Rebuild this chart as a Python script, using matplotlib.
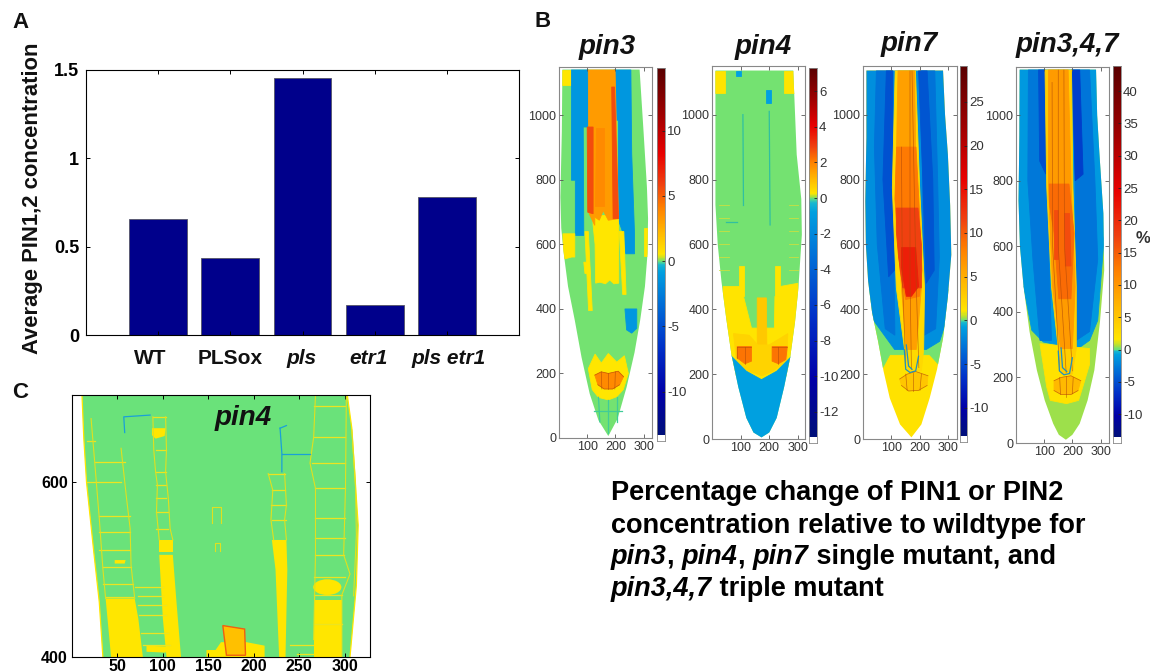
import numpy as np
import matplotlib
matplotlib.use('Agg')
import matplotlib.pyplot as plt
from matplotlib.colors import LinearSegmentedColormap, TwoSlopeNorm
from matplotlib.patches import Polygon, Ellipse

plt.rcParams['font.family'] = ['Liberation Sans', 'DejaVu Sans']
plt.rcParams['axes.unicode_minus'] = False

W, H = 1150, 672

# panel A
genotypes = ['WT', 'PLSox', 'pls', 'etr1', 'pls etr1']
geno_italic = [False, False, True, True, True]
pin_conc = [0.657, 0.436, 1.455, 0.17, 0.78]
geno_label_x = [150, 230, 302, 369, 449]

scale_pos = [0, .12, .25, .38, .47, .49, .5, .506, .518, .58, .64, .70, .78, .88, 1]
scale_col = ['#00107a', '#0000a8', '#0030c8', '#0070d8', '#00a0e0', '#18b8d0', '#6ae27a',
             '#a8e040', '#ffe600', '#ffb400', '#ff8000', '#f04010', '#e80000', '#a00000', '#5a0000']
jetish = LinearSegmentedColormap.from_list('jetish', list(zip(scale_pos, scale_col)), N=512)

# root outlines, x then y
pin3_out_x = [12, 10, 5, 8, 17, 32, 56, 80, 109, 140, 175, 208, 240, 268, 288, 305, 314, 316, 312, 300, 286]
pin3_out_y = [1142, 950, 747, 650, 571, 470, 365, 250, 137, 55, 6, 60, 158, 265, 365, 470, 571, 680, 778, 950, 1142]
pin4_out_x = [12, 12, 12, 20, 33, 50, 68, 92, 120, 145, 173, 200, 226, 252, 273, 290, 302, 314, 312, 296, 284]
pin4_out_y = [1136, 930, 722, 600, 486, 370, 260, 160, 65, 20, 5, 20, 65, 160, 250, 360, 466, 630, 740, 877, 1136]
pin7_out_x = [12, 12, 8, 10, 18, 32, 53, 72, 94, 130, 170, 205, 234, 260, 281, 298, 310, 306, 298, 288, 281]
pin7_out_y = [1136, 930, 733, 600, 486, 390, 301, 210, 126, 45, 5, 45, 126, 215, 311, 440, 568, 720, 877, 1000, 1136]
tri_out_x = [13, 12, 9, 14, 27, 48, 74, 102, 132, 152, 177, 200, 226, 254, 278, 298, 313, 310, 296, 288, 284]
tri_out_y = [1139, 940, 740, 600, 476, 340, 222, 130, 59, 25, 10, 25, 59, 130, 222, 370, 527, 700, 883, 1000, 1139]

# regions of each map: xs, ys, value in %
pin3_regions = [
    ([12, 44, 44, 12], [1142, 1142, 1093, 1093], 0.55),
    ([44, 104, 104, 86, 88, 58, 58, 44], [1142, 1142, 964, 964, 628, 628, 799, 799], -1.2),
    ([195, 255, 258, 268, 268, 237, 228, 211, 211, 195], [1142, 1142, 881, 633, 571, 571, 633, 675, 985, 985], -1.2),
    ([92, 104, 118, 105], [640, 640, 395, 395], 0.55),
    ([214, 230, 238, 226], [640, 640, 445, 445], 0.55),
    ([120, 211, 212, 195, 180, 165, 145, 130, 128, 121], [690, 690, 480, 478, 490, 478, 483, 480, 600, 660], 0.55),
    ([14, 56, 56, 45, 20, 14], [633, 633, 561, 561, 555, 590], 0.55),
    ([300, 316, 316, 300], [650, 650, 565, 565], 0.55),
    ([88, 108, 110, 92], [545, 545, 510, 510], 0.55),
    ([234, 276, 276, 258, 240], [400, 400, 340, 325, 335], -1.2),
    ([104, 199, 211, 175, 157, 143, 127, 127, 107], [1142, 1142, 680, 675, 705, 675, 685, 659, 695], 3.2),
    ([100, 121, 121, 102], [964, 964, 695, 700], 5.6),
    ([187, 197, 211, 192], [1088, 1088, 680, 680], 5.6),
    ([132, 158, 158, 128], [960, 960, 720, 720], 3.8),
    ([104, 128, 150, 175, 205, 232, 246, 228, 205, 175, 140, 118], [215, 260, 232, 262, 235, 255, 200, 150, 128, 118, 126, 150], 0.55),
    ([127, 150, 175, 210, 229, 215, 190, 160, 138], [195, 205, 200, 207, 190, 165, 152, 152, 165], 3.8),
]
pin4_regions = [
    ([12, 47, 47, 12], [1136, 1136, 1067, 1067], 0.3),
    ([253, 290, 290, 253], [1136, 1136, 1067, 1067], 0.3),
    ([85, 103, 103, 85], [1136, 1136, 1118, 1118], -0.8),
    ([188, 205, 205, 188], [1077, 1077, 1036, 1036], -0.8),
    ([39, 103, 110, 138, 138, 200, 218, 220, 237, 237, 300, 320, 280, 173, 60, 20],
     [470, 470, 440, 342, 342, 342, 342, 440, 440, 470, 480, 200, 200, 170, 200, 200], 0.3),
    ([95, 111, 111, 95], [532, 532, 440, 440], 0.3),
    ([220, 237, 237, 220], [532, 532, 440, 440], 0.3),
    ([158, 190, 192, 158], [435, 435, 250, 250], 0.8),
    ([75, 130, 160, 200, 265, 262, 215, 175, 125, 85], [325, 320, 290, 290, 325, 245, 210, 195, 210, 245], 0.6),
    ([88, 138, 138, 115, 88], [285, 285, 240, 232, 250], 2.2),
    ([210, 263, 258, 232, 210], [285, 285, 245, 232, 240], 2.2),
    ([50, 68, 120, 173, 226, 278, 300, 320, 320, 10, 10, 50], [280, 255, 209, 183, 209, 255, 280, 255, 0, 0, 255, 280], -0.8),
]
pin7_regions = [
    ([0, 330, 330, 275, 234, 94, 70, 0], [460, 460, 190, 221, 260, 260, 221, 190], 0),
    ([0, 330, 330, 292, 269, 222, 111, 82, 23, 0], [1200, 1200, 363, 363, 301, 276, 276, 311, 383, 383], -1.6),
    ([47, 105, 105, 112, 78, 50, 40], [1136, 1136, 800, 320, 340, 600, 900], -3),
    ([205, 252, 262, 268, 255, 215], [1136, 1136, 800, 560, 340, 320], -3),
    ([82, 104, 106, 110, 90, 70], [1136, 1136, 700, 520, 500, 800], -4.8),
    ([195, 225, 245, 250, 222, 210], [1136, 1136, 800, 520, 480, 800], -4.6),
    ([113, 184, 199, 216, 213, 205, 160, 146, 117, 103], [1136, 1136, 774, 466, 276, 210, 210, 276, 466, 774], 2),
    ([123, 181, 187, 205, 187, 152, 135, 115], [1136, 1136, 774, 466, 276, 276, 466, 774], 6),
    ([118, 186, 196, 207, 198, 150, 130, 112], [900, 900, 740, 520, 440, 430, 520, 740], 8.5),
    ([117, 193, 205, 205, 140, 125, 117], [712, 712, 600, 466, 466, 560, 640], 11.5),
    ([135, 185, 195, 170, 152, 135], [590, 590, 470, 440, 440, 530], 14),
    ([129, 155, 185, 228, 225, 195, 160, 135], [185, 200, 208, 195, 165, 150, 148, 165], 3.4),
]
tri_regions = [
    ([0, 330, 330, 313, 290, 261, 220, 97, 56, 27, 0], [1200, 1200, 629, 629, 374, 313, 288, 308, 344, 476, 476], -1.2),
    ([44, 103, 108, 126, 85, 60, 42], [1139, 1139, 800, 313, 313, 560, 800], -2.8),
    ([197, 261, 280, 290, 261, 214, 210], [1139, 1139, 800, 560, 340, 313, 800], -3),
    ([80, 103, 106, 84], [1139, 1139, 820, 860], -5),
    ([200, 226, 238, 210], [1139, 1139, 820, 800], -6),
    ([85, 261, 261, 237, 222, 179, 122, 109], [303, 288, 240, 171, 130, 120, 130, 171], 2),
    ([103, 197, 202, 214, 214, 200, 160, 150, 126, 109], [1139, 1139, 781, 476, 288, 210, 210, 288, 476, 781], 4.2),
    ([115, 185, 196, 210, 200, 158, 130, 115], [1139, 1139, 781, 476, 288, 288, 476, 781], 9.5),
    ([118, 188, 206, 195, 152, 135, 120], [790, 790, 640, 440, 440, 640, 720], 14),
    ([135, 150, 150, 135], [710, 710, 560, 560], 16.5),
    ([172, 190, 195, 175], [700, 700, 540, 540], 16.5),
    ([135, 160, 195, 230, 220, 195, 160, 135], [190, 200, 205, 190, 160, 148, 148, 160], 6.5),
]
# thin cell walls inside the maps
pin3_walls = [([127, 150, 175, 210, 229], [195, 205, 200, 207, 190]), ([138, 160, 190, 215], [165, 152, 152, 165]),
              ([150, 152], [205, 152]), ([175, 175], [200, 152]), ([200, 198], [205, 152])]
pin3_tip = [([175, 175], [118, 15]), ([140, 145], [126, 50]), ([205, 205], [128, 50]), ([125, 225], [85, 85])]
pin4_walls = [([88, 138], [285, 285]), ([88, 88], [285, 250]), ([115, 115], [285, 232]),
              ([210, 263], [285, 285]), ([232, 232], [285, 232])]
pin4_tip = [([108, 110], [1000, 720]), ([200, 203], [1010, 660]), ([50, 88], [668, 668])]
pin4_rows = [(25, 60, y) for y in [720, 680, 640, 600, 560, 520]] + [(268, 302, y) for y in [720, 680, 640, 600, 560, 520]]
pin7_walls = [([129, 155, 185, 228], [185, 200, 208, 195]), ([135, 160, 195, 225], [165, 148, 150, 165]),
              ([150, 155], [200, 150]), ([175, 175], [205, 148]), ([205, 200], [200, 150]),
              ([135, 138, 150], [900, 500, 220]), ([165, 165, 170], [1136, 500, 215]), ([172, 186, 196], [1136, 500, 220])]
tri_walls = [([135, 160, 195, 230], [190, 200, 205, 190]), ([135, 160, 195, 220], [160, 148, 148, 160]),
             ([155, 158], [200, 148]), ([178, 178], [205, 140]), ([203, 200], [200, 150]),
             ([128, 130, 155], [1100, 600, 220]), ([150, 150, 178], [1139, 600, 215]), ([170, 172, 200], [1139, 600, 220])]
pin7_tip = [([145, 150, 165, 185, 195], [275, 215, 205, 210, 255]), ([152, 160, 172], [290, 225, 215])]
tri_tip = [([150, 154, 170, 190, 200], [280, 220, 208, 212, 260]), ([160, 165, 180], [290, 230, 218])]

x_ticks = [100, 200, 300]
y_ticks = [0, 200, 400, 600, 800, 1000]
pin3_cb = [-10, -5, 0, 5, 10]
pin4_cb = [-12, -10, -8, -6, -4, -2, 0, 2, 4, 6]
pin7_cb = [-10, -5, 0, 5, 10, 15, 20, 25]
tri_cb = [-10, -5, 0, 5, 10, 15, 20, 25, 30, 35, 40]

# panel C, zoomed map of pin4
c_body_x = [11, 13, 16, 20, 24, 30, 34, 306, 313, 315, 312, 308, 303]
c_body_y = [700, 650, 600, 560, 520, 463, 400, 400, 482, 551, 597, 662, 700]
c_yellow = [
    ([37, 69, 73, 78, 43], [467, 467, 444, 400, 400]),
    ([96, 111, 115, 120, 104, 100, 98], [517, 517, 463, 400, 400, 444, 480]),
    ([96, 111, 111, 96], [534, 534, 520, 520]),
    ([88, 103, 102, 92, 88], [662, 662, 653, 650, 654]),
    ([220, 236, 237, 235, 228, 224], [534, 534, 500, 400, 400, 500]),
    ([266, 297, 297, 266], [465, 465, 400, 400]),
    ([148, 158, 164, 192, 212, 212, 148], [408, 408, 417, 417, 413, 400, 400]),
    ([82, 105, 103, 82], [413, 412, 405, 406]),
    ([47, 59, 58, 47], [511, 511, 507, 507]),
]
c_orange_x = [166, 190, 191, 170]
c_orange_y = [436, 432, 402, 402]
c_blob = (281, 480, 31, 18)
c_rows = [(16, 25, 647), (25, 58, 623), (16, 54, 600), (30, 64, 561), (30, 64, 543), (30, 64, 522), (34, 65, 503),
          (34, 67, 484), (37, 67, 469), (69, 100, 480), (73, 100, 470), (73, 104, 459), (74, 104, 448),
          (76, 106, 427), (78, 108, 414), (89, 104, 675), (93, 104, 637), (93, 104, 612), (92, 103, 597), (92, 103, 582),
          (93, 106, 566), (93, 106, 547), (216, 234, 610), (220, 234, 591), (219, 236, 574), (220, 236, 557),
          (266, 301, 687), (266, 301, 652), (264, 301, 622), (268, 301, 593), (268, 301, 559), (268, 301, 536),
          (268, 299, 517), (266, 300, 492), (266, 297, 471), (266, 297, 438), (240, 265, 414), (248, 265, 403)]
c_walls = [([21, 25, 30, 34, 37], [673, 623, 559, 501, 467]), ([54, 60, 64, 65, 69], [639, 582, 547, 505, 467]),
           ([89, 90, 92, 94, 93, 96], [675, 637, 612, 597, 566, 534]), ([103, 104, 103, 106, 108, 111], [675, 637, 612, 582, 547, 534]),
           ([216, 221, 219, 222], [610, 591, 557, 534]), ([234, 236, 234, 236], [610, 574, 557, 534]),
           ([268, 266, 262, 268, 268, 266], [700, 652, 622, 593, 517, 420]), ([302, 301, 299, 306, 297, 297], [700, 593, 517, 495, 471, 400]),
           ([308, 312, 313, 310], [660, 600, 540, 470]), ([154, 154, 164, 164], [553, 572, 572, 553]), ([157, 157, 163, 163], [521, 530, 530, 521])]
c_blue = [([58, 57, 86], [657, 675, 677]), ([229, 231, 231], [662, 633, 612]), ([231, 262], [633, 633]), ([229, 236], [662, 665])]


def px_axes(left, top, right, bottom):
    return fig.add_axes([left / W, 1 - bottom / H, (right - left) / W, (bottom - top) / H])


def root_map(box, cbox, xlim, ylim, vmin, vmax, ox, oy, base, regions, walls, tip, tipcol, cb_ticks, rows=()):
    norm = TwoSlopeNorm(vmin=vmin, vcenter=0, vmax=vmax)
    ax = px_axes(*box)
    ax.set_xlim(*xlim)
    ax.set_ylim(*ylim)
    clip = Polygon(np.column_stack([ox, oy]), closed=True, transform=ax.transData, fc='none', ec='none')
    ax.add_patch(clip)
    ax.fill(ox, oy, color=jetish(norm(base)), lw=0)
    for xs, ys, val in regions:
        p = ax.fill(xs, ys, color=jetish(norm(val)), lw=0.6)[0]
        p.set_clip_path(clip)
    for x0, x1, yy in rows:
        ax.plot([x0, x1], [yy, yy], color='#c8e040', lw=0.6)
    for xs, ys in walls:
        ln = ax.plot(xs, ys, color='#b04808', lw=0.5, alpha=0.7)[0]
        ln.set_clip_path(clip)
    for xs, ys in tip:
        ax.plot(xs, ys, color=tipcol, lw=0.9)
    ax.set_xticks(x_ticks)
    ax.set_yticks(y_ticks)
    ax.tick_params(direction='in', length=3, width=0.6, color='#555555', labelcolor='#333333',
                   labelsize=9, pad=2, top=True, right=True)
    for s in ax.spines.values():
        s.set_color('#888888')
        s.set_linewidth(0.8)
    # colour bar with the white end box below it
    cax = px_axes(*cbox)
    extra = (vmax - vmin) * 0.017
    grad = np.linspace(vmin, vmax, 400)[:, None]
    cax.imshow(grad, cmap=jetish, norm=norm, origin='lower', aspect='auto', extent=[0, 1, vmin, vmax])
    cax.set_ylim(vmin - extra, vmax)
    cax.set_xticks([])
    cax.yaxis.tick_right()
    cax.set_yticks(cb_ticks)
    cax.tick_params(direction='in', length=2.5, width=0.6, color='#222222', labelcolor='#333333',
                    labelsize=9.5, pad=1.5)
    for s in cax.spines.values():
        s.set_color('#888888')
        s.set_linewidth(0.6)


def put(x, y, s, **kw):
    kw.setdefault('ha', 'left')
    kw.setdefault('va', 'baseline')
    return fig.text(x / W, 1 - y / H, s, **kw)


def rich(x, y, parts, size):
    # bold roman and bold italic runs on one line
    rend = fig.canvas.get_renderer()
    for s, ital in parts:
        t = put(x, y, s, fontsize=size, fontweight='bold', style='italic' if ital else 'normal', color='#000000')
        x += t.get_window_extent(rend).width


fig = plt.figure(figsize=(W / 100, H / 100), dpi=100)

# A
ax = px_axes(86, 70, 519, 335)
pos = np.arange(1, len(genotypes) + 1)
ax.bar(pos, pin_conc, width=0.8, color='#00008b', edgecolor='#555566', lw=0.6)
ax.set_xlim(0, 6)
ax.set_ylim(0, 1.5)
ax.set_yticks([0, 0.5, 1, 1.5])
ax.set_yticklabels(['0', '0.5', '1', '1.5'], fontweight='bold', fontsize=13)
ax.set_xticks(pos)
ax.set_xticklabels([])
ax.tick_params(direction='in', length=3, width=0.7, top=True, right=True)
ax.tick_params(axis='y', pad=5)
for s in ax.spines.values():
    s.set_linewidth(0.8)
for lx, name, it in zip(geno_label_x, genotypes, geno_italic):
    put(lx, 364, name, ha='center', fontsize=15, fontweight='bold', style='italic' if it else 'normal', color='#111111')
put(33, 198, 'Average PIN1,2 concentration', rotation=90, ha='center', va='center',
    fontsize=15.8, fontweight='bold', color='#111111')

# B
root_map((559, 67, 652, 438), (657, 68, 665, 441), (0, 330), (0, 1150), -13.3, 14.8,
         pin3_out_x, pin3_out_y, 0, pin3_regions, pin3_walls, pin3_tip, '#40cc98', pin3_cb)
root_map((712, 66, 805, 439), (809, 68, 817, 443), (0, 325), (0, 1150), -13.4, 7.3,
         pin4_out_x, pin4_out_y, 0, pin4_regions, pin4_walls, pin4_tip, '#30c0a0', pin4_cb, pin4_rows)
root_map((863, 66, 957, 439), (960, 66, 967, 442), (0, 330), (0, 1150), -13.2, 29.1,
         pin7_out_x, pin7_out_y, 1.3, pin7_regions, pin7_walls, pin7_tip, '#2090c0', pin7_cb)
root_map((1016, 67, 1109, 443), (1113, 66, 1121, 443), (0, 330), (0, 1147), -13.5, 43.9,
         tri_out_x, tri_out_y, 0.5, tri_regions, tri_walls, tri_tip, '#2090c0', tri_cb)

for cx, cy, name in [(607, 54, 'pin3'), (763, 54, 'pin4'), (909, 51, 'pin7'), (1067, 52, 'pin3,4,7')]:
    put(cx, cy, name, ha='center', fontsize=20, fontweight='bold', style='italic', color='#111111')
put(1143, 243, '%', ha='center', fontsize=12, fontweight='bold', color='#333333')

rich(611, 500, [('Percentage change of PIN1 or PIN2', False)], 19.5)
rich(611, 533, [('concentration relative to wildtype for', False)], 19.5)
rich(611, 564, [('pin3', True), (', ', False), ('pin4', True), (', ', False), ('pin7', True), (' single mutant, and', False)], 19.5)
rich(611, 596, [('pin3,4,7', True), (' triple mutant', False)], 19.5)

# C
ax = px_axes(72, 395, 370, 657)
ax.set_xlim(0, 328)
ax.set_ylim(400, 700)
ax.fill(c_body_x, c_body_y, color='#6ae27a', lw=0)
ax.plot(c_body_x[:7], c_body_y[:7], color='#ffe600', lw=0.9)
ax.plot(c_body_x[7:], c_body_y[7:], color='#ffe600', lw=0.9)
for xs, ys in c_yellow:
    ax.fill(xs, ys, color='#ffe600', lw=0)
ax.add_patch(Ellipse(c_blob[:2], c_blob[2], c_blob[3], color='#ffe600', lw=0))
ax.fill(c_orange_x, c_orange_y, facecolor='#ffc000', edgecolor='#f06010', lw=1)
for x0, x1, yy in c_rows:
    ax.plot([x0, x1], [yy, yy], color='#ece420', lw=0.9)
for xs, ys in c_walls:
    ax.plot(xs, ys, color='#dfe020', lw=0.8)
for xs, ys in c_blue:
    ax.plot(xs, ys, color='#1aa0d8', lw=0.9)
ax.set_xticks([50, 100, 150, 200, 250, 300])
ax.set_yticks([400, 600])
ax.tick_params(direction='in', length=3, width=0.7, top=True, right=True, labelsize=11.5, pad=1.5)
ax.tick_params(axis='y', pad=3)
for lab in ax.get_xticklabels() + ax.get_yticklabels():
    lab.set_fontweight('bold')
for s in ax.spines.values():
    s.set_linewidth(0.8)
put(243, 425, 'pin4', ha='center', fontsize=20, fontweight='bold', style='italic', color='#111111')

# panel letters
put(12, 28, 'A', fontsize=16, fontweight='bold', color='#111111')
put(534, 27, 'B', fontsize=16, fontweight='bold', color='#111111')
put(12, 398, 'C', fontsize=16, fontweight='bold', color='#111111')

fig.savefig('out.png', dpi=100)
